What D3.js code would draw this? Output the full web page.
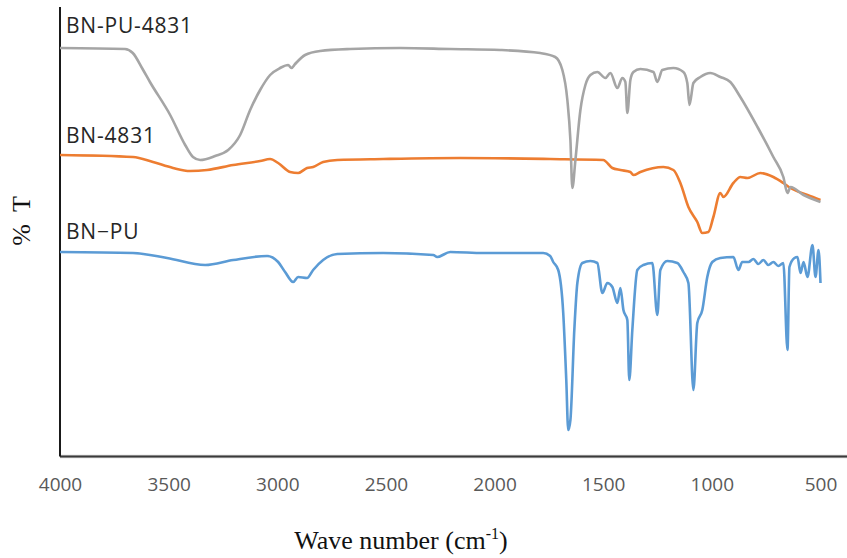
<!DOCTYPE html>
<html>
<head>
<meta charset="utf-8">
<script src="https://cdn.jsdelivr.net/npm/d3@7"></script>
<style>
  body { margin: 0; background: #fff; }
  svg { display: block; }
</style>
</head>
<body>
<svg id="ftir" width="847" height="558"></svg>
<script>
// wave number ticks along the bottom
var tickValues = [4000, 3500, 3000, 2500, 2000, 1500, 1000, 500];

// spectra: [wave number, %T (arbitrary, offset stacked)]
var bnPu4831 = [
  [4000, 406], [3701, 405], [3665, 401], [3620, 385], [3586, 372], [3493, 339], [3424, 309],
  [3388, 297], [3355, 294], [3286, 298], [3226, 304], [3171, 319], [3125, 344],
  [3079, 364], [3033, 379], [2987, 386], [2950, 389], [2935, 386], [2918, 390],
  [2872, 399], [2803, 403], [2665, 405], [2434, 406], [2204, 405], [1974, 404],
  [1790, 401], [1721, 397], [1688, 384], [1665, 354], [1651, 314], [1642, 266],
  [1628, 294], [1605, 344], [1582, 369], [1559, 379], [1527, 382], [1490, 376],
  [1467, 381], [1435, 366], [1412, 376], [1398, 372], [1389, 341], [1375, 374],
  [1361, 382], [1329, 385], [1269, 382], [1251, 372], [1228, 384], [1177, 386],
  [1131, 382], [1113, 371], [1103, 349], [1085, 371], [1053, 377], [1007, 381],
  [961, 377], [915, 372], [869, 357], [790, 327], [717, 297], [671, 277],
  [652, 261], [638, 267], [578, 259], [500, 252]
];

var bn4831 = [
  [4000, 299], [3664, 297], [3572, 292], [3480, 286], [3401, 283], [3323, 284],
  [3203, 289], [3079, 293], [3033, 295], [2996, 291], [2941, 282], [2904, 281],
  [2863, 286], [2835, 287], [2789, 292], [2724, 294], [2513, 295], [2158, 296],
  [1744, 295], [1500, 294], [1458, 286], [1421, 284], [1375, 282], [1361, 279],
  [1329, 282], [1223, 287], [1177, 284], [1145, 271], [1108, 247], [1067, 232],
  [1044, 221], [1016, 222], [993, 237], [961, 261], [947, 257], [901, 271],
  [869, 277], [836, 276], [777, 281], [717, 277], [671, 271], [638, 266],
  [560, 259], [500, 254]
];

var bnPu = [
  [4000, 202], [3664, 201], [3507, 196], [3332, 189], [3203, 194], [3047, 198],
  [2996, 192], [2964, 182], [2927, 172], [2904, 177], [2863, 176], [2835, 184],
  [2789, 194], [2724, 200], [2513, 201], [2282, 199], [2264, 197], [2204, 202],
  [2052, 201], [1776, 201], [1744, 198], [1730, 192], [1707, 184], [1684, 141],
  [1670, 74], [1661, 24], [1651, 34], [1633, 124], [1619, 171], [1596, 191],
  [1559, 193], [1527, 191], [1504, 161], [1481, 171], [1458, 167], [1435, 151],
  [1421, 166], [1407, 144], [1389, 134], [1380, 74], [1366, 124], [1343, 184],
  [1315, 189], [1274, 191], [1251, 139], [1237, 184], [1205, 193], [1159, 191],
  [1131, 182], [1108, 171], [1085, 64], [1067, 131], [1044, 144], [1021, 177],
  [998, 192], [961, 196], [901, 197], [878, 184], [860, 192], [831, 192],
  [809, 195], [786, 190], [763, 194], [740, 189], [717, 192], [694, 188],
  [671, 191], [652, 104], [643, 187], [620, 196], [606, 197], [592, 181],
  [578, 192], [560, 177], [537, 209], [523, 177], [509, 204], [500, 171]
];

var seriesNames = ['BN-PU-4831', 'BN-4831', 'BN\u2212PU'];
var seriesColors = ['#a5a5a5', '#ed7d31', '#5b9bd5'];

var svg = d3.select('#ftir');
var margin = { top: 7, left: 60 };

var xScale = d3.scaleLinear()
    .domain([4000, 500])
    .range([60, 820.5]);

var yScale = d3.scaleLinear()
    .domain([0, 432])
    .range([454, 22]);

var line = d3.line()
    .x(d => xScale(d[0]))
    .y(d => yScale(d[1]))
    .curve(d3.curveMonotoneX);

// axis frame: left line and bottom line running to the right edge
var baseY = 456.5;
svg.append('line')
    .attr('x1', margin.left).attr('x2', 847)
    .attr('y1', baseY).attr('y2', baseY)
    .style('stroke', '#d0d0d0').style('stroke-width', 3.5);
svg.append('line')
    .attr('x1', margin.left).attr('x2', 847)
    .attr('y1', baseY).attr('y2', baseY)
    .style('stroke', '#3a3a3a').style('stroke-width', 2);
svg.append('line')
    .attr('x1', margin.left).attr('x2', margin.left)
    .attr('y1', margin.top).attr('y2', baseY)
    .style('stroke', '#1a1a1a').style('stroke-width', 2);

// spectra (orange under grey where they meet at the right)
var order = [1, 0, 2];
var allData = [bnPu4831, bn4831, bnPu];
order.forEach(i => {
    svg.append('path')
        .datum(allData[i])
        .attr('d', line)
        .style('fill', 'none')
        .style('stroke', seriesColors[i])
        .style('stroke-width', 2.6)
        .style('stroke-linejoin', 'round');
});

// series labels above each trace
var labelY = [33, 143, 239];
seriesNames.forEach((name, i) => {
    svg.append('text')
        .attr('x', 66)
        .attr('y', labelY[i])
        .style('font-family', '"Open Sans", sans-serif')
        .style('font-size', '21px')
        .style('letter-spacing', '0.8px')
        .style('fill', '#262626')
        .text(name);
});

// x tick labels
var xAxis = d3.axisBottom(xScale)
    .tickValues(tickValues)
    .tickFormat(d3.format('d'))
    .tickSize(0)
    .tickPadding(21);

var gx = svg.append('g')
    .attr('transform', `translate(0, ${baseY})`)
    .call(xAxis);
gx.select('.domain').remove();
gx.selectAll('text')
    .style('font-family', '"Open Sans", sans-serif')
    .style('font-size', '19px')
    .style('fill', '#595959');

// axis titles
var xTitle = svg.append('text')
    .attr('x', 401)
    .attr('y', 549)
    .style('text-anchor', 'middle')
    .style('font-family', '"Liberation Serif", "Times New Roman", serif')
    .style('font-size', '26px')
    .style('fill', '#111');
xTitle.append('tspan').text('Wave number (cm');
xTitle.append('tspan').attr('dy', -10).style('font-size', '16px').text('-1');
xTitle.append('tspan').attr('dy', 10).text(')');

svg.append('text')
    .attr('transform', 'translate(30, 221) rotate(-90)')
    .style('text-anchor', 'middle')
    .style('font-family', '"Liberation Serif", "Times New Roman", serif')
    .style('font-size', '26px')
    .style('word-spacing', '6px')
    .style('fill', '#111')
    .text('% T');
</script>
</body>
</html>
